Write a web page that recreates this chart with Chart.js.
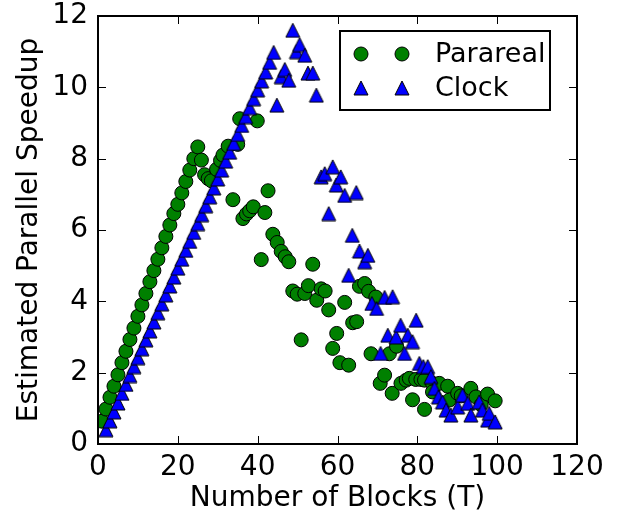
<!DOCTYPE html>
<html>
<head>
<meta charset="utf-8">
<script src="https://cdn.jsdelivr.net/npm/chart.js@4.4.1/dist/chart.umd.min.js"></script>
<style>
  html, body { margin: 0; padding: 0; background: #fff; }
  #speedup { display: block; }
</style>
</head>
<body>
<canvas id="speedup" width="618" height="514"></canvas>
<script>
// Parareal runs: number of blocks vs. estimated speedup
const pararealT = [1, 2, 3, 4, 5, 6, 7, 8, 9, 10, 11, 12, 13, 14, 15, 16, 17, 18, 19, 20, 21, 22, 23, 24, 25,
  25.9, 26.7, 27.6, 28.4, 29.7, 30.7, 31.3, 32.6, 33.8, 35.0, 35.5, 36.3, 37.2, 38.0, 38.9, 39.9, 40.9,
  41.8, 42.6, 43.8, 44.9, 45.9, 46.9, 47.8, 48.8, 49.9, 50.9, 51.8, 52.7, 53.8, 54.8, 55.9, 56.9, 57.8,
  58.8, 59.8, 60.6, 61.8, 62.8, 63.8, 64.8, 65.5, 66.8, 67.8, 68.4, 69.6, 70.7, 71.8, 73.0, 73.7, 74.8,
  75.9, 77.2, 78.0, 78.8, 79.6, 80.9, 81.8, 81.8, 83.8, 83.8, 85.5, 87.6, 88.0, 90.1, 91.0, 93.4, 94.7,
  96.0, 97.6, 99.5];
const pararealSpeedup = [0.64, 0.98, 1.31, 1.62, 1.94, 2.28, 2.6, 2.93, 3.25, 3.58, 3.9, 4.22, 4.55, 4.86,
  5.18, 5.5, 5.82, 6.14, 6.46, 6.72, 7.04, 7.36, 7.68, 8.0, 8.33,
  7.96, 7.55, 7.44, 7.38, 7.7, 7.95, 8.1, 8.35, 6.85, 8.4, 9.12, 6.32, 6.45, 6.54, 6.65, 9.06, 5.17,
  6.49, 7.1, 5.88, 5.65, 5.4, 5.25, 5.11, 4.29, 4.2, 2.92, 4.22, 4.44, 5.04, 4.03, 4.35, 4.29, 3.76,
  2.68, 3.1, 2.28, 3.97, 2.21, 3.4, 3.43, 4.42, 4.5, 4.28, 2.53, 4.12, 1.7, 1.93, 2.53, 1.42, 2.74,
  1.7, 1.79, 1.84, 1.24, 1.81, 1.81, 0.97, 1.79, 1.7, 1.46, 1.7, 1.62, 1.23, 1.42, 1.35, 1.56, 1.32,
  1.1, 1.4, 1.21];

// Clock runs
const clockT = [2, 3, 4, 5, 6, 7, 8, 9, 10, 11, 12, 13, 14, 15, 16, 17, 18, 19, 20, 21, 22, 23, 24, 25,
  26, 27, 28, 29, 30, 31, 32, 33, 34, 35, 36, 37, 38, 39, 40, 41, 42, 43, 44,
  44.8, 45.9, 46.8, 47.8, 48.8, 49.7, 50.5, 51.8, 52.6, 53.8, 54.7, 55.9, 56.8, 57.8, 58.8, 59.7, 60.8,
  61.8, 62.8, 63.7, 64.7, 65.5, 66.8, 67.6, 68.6, 69.8, 70.8, 71.8, 72.6, 73.8, 74.7, 75.8, 76.8, 77.6,
  78.8, 79.7, 80.5, 81.5, 82.6, 83.4, 84.3, 85.3, 86.3, 87.2, 88.4, 90.1, 91.3, 92.6, 93.4, 95.5, 96.3,
  97.6, 98.0, 99.5];
const clockSpeedup = [0.4, 0.65, 0.9, 1.15, 1.42, 1.67, 1.92, 2.17, 2.42, 2.67, 2.92, 3.17, 3.42, 3.68,
  3.93, 4.18, 4.43, 4.68, 4.93, 5.18, 5.43, 5.68, 5.93, 6.18, 6.43, 6.68, 6.93, 7.18, 7.43, 7.68, 7.93,
  8.18, 8.43, 8.68, 8.93, 9.18, 9.43, 9.68, 9.93, 10.18, 10.43, 10.7, 10.98,
  9.5, 10.3, 10.5, 10.2, 11.6, 11.0, 11.2, 10.9, 10.4, 10.4, 9.78, 7.49, 7.58, 6.46, 7.77, 7.26, 7.49,
  6.97, 4.73, 5.85, 7.05, 5.41, 5.11, 5.29, 3.94, 3.8, 2.54, 4.11, 3.05, 4.13, 3.0, 3.33, 2.54, 3.05,
  2.87, 3.47, 2.26, 2.17, 2.17, 1.89, 1.56, 1.32, 1.18, 0.95, 0.81, 1.04, 1.37, 1.14, 0.81, 1.18, 0.95,
  0.67, 0.86, 0.62];

const xTicks = [0, 20, 40, 60, 80, 100, 120];
const yTicks = [0, 2, 4, 6, 8, 10, 12];

const FONT = 'DejaVu Sans';

// matplotlib-style "^" marker: as wide as it is tall, centred at mid-height
function makeTriangle(size) {
  const c = document.createElement('canvas');
  c.width = size + 2;
  c.height = size + 2;
  const g = c.getContext('2d');
  g.beginPath();
  g.moveTo(1 + size / 2, 1);
  g.lineTo(1, 1 + size);
  g.lineTo(1 + size, 1 + size);
  g.closePath();
  g.fillStyle = '#0000ff';
  g.fill();
  g.lineWidth = 1;
  g.strokeStyle = '#000';
  g.stroke();
  return c;
}
const triangle = makeTriangle(14);

const toPoints = (xs, ys) => xs.map((v, i) => ({ x: v, y: ys[i] }));

// frame on all four sides with inward ticks
const frameTicks = {
  id: 'frameTicks',
  afterDatasetsDraw(chart) {
    const { ctx, chartArea: a, scales: { x, y } } = chart;
    const len = 8;
    ctx.save();
    ctx.strokeStyle = '#000';
    ctx.lineWidth = 1;
    ctx.beginPath();
    xTicks.forEach(v => {
      const px = Math.round(x.getPixelForValue(v)) + 0.5;
      ctx.moveTo(px, a.bottom); ctx.lineTo(px, a.bottom - len);
      ctx.moveTo(px, a.top); ctx.lineTo(px, a.top + len);
    });
    yTicks.forEach(v => {
      const py = Math.round(y.getPixelForValue(v)) + 0.5;
      ctx.moveTo(a.left, py); ctx.lineTo(a.left + len, py);
      ctx.moveTo(a.right, py); ctx.lineTo(a.right - len, py);
    });
    ctx.stroke();
    ctx.lineWidth = 2;
    ctx.strokeRect(a.left, a.top, a.right - a.left, a.bottom - a.top);
    ctx.restore();
  }
};

// legend box in the upper right, two markers per entry
const legendBox = {
  id: 'legendBox',
  afterDraw(chart) {
    const { ctx, chartArea: a } = chart;
    const w = 210, h = 79;
    const left = a.right - 27 - w, top = a.top + 15;
    ctx.save();
    ctx.fillStyle = '#fff';
    ctx.fillRect(left, top, w, h);
    ctx.lineWidth = 2;
    ctx.strokeStyle = '#000';
    ctx.strokeRect(left, top, w, h);
    const rows = [top + 23, top + 57];
    chart.data.datasets.forEach((ds, i) => {
      const cy = rows[i];
      [left + 21, left + 62].forEach(cx => {
        if (ds.pointStyle === 'circle') {
          ctx.beginPath();
          ctx.arc(cx, cy, ds.pointRadius, 0, Math.PI * 2);
          ctx.fillStyle = ds.backgroundColor;
          ctx.fill();
          ctx.lineWidth = ds.borderWidth;
          ctx.strokeStyle = ds.borderColor;
          ctx.stroke();
        } else {
          ctx.drawImage(ds.pointStyle, cx - ds.pointStyle.width / 2, cy - ds.pointStyle.height / 2);
        }
      });
      ctx.fillStyle = '#000';
      ctx.font = '27px "' + FONT + '"';
      ctx.textBaseline = 'middle';
      ctx.textAlign = 'left';
      ctx.fillText(ds.label, left + 95, cy + 1);
    });
    ctx.restore();
  }
};

new Chart(document.getElementById('speedup'), {
  type: 'scatter',
  data: {
    datasets: [
      {
        label: 'Parareal',
        data: toPoints(pararealT, pararealSpeedup),
        pointStyle: 'circle',
        pointRadius: 7,
        backgroundColor: '#008000',
        borderColor: '#000',
        borderWidth: 1,
        order: 1
      },
      {
        label: 'Clock',
        data: toPoints(clockT, clockSpeedup),
        pointStyle: triangle,
        pointRadius: 7,
        backgroundColor: '#0000ff',
        borderColor: '#000',
        borderWidth: 1,
        order: 0
      }
    ]
  },
  options: {
    responsive: false,
    animation: false,
    events: [],
    layout: { padding: { top: 16, right: 41, left: 0, bottom: 0 } },
    plugins: { legend: { display: false }, tooltip: { enabled: false } },
    scales: {
      x: {
        type: 'linear',
        min: 0,
        max: 120,
        afterBuildTicks: s => { s.ticks = xTicks.map(v => ({ value: v })); },
        afterFit: s => { s.height = 70; },
        grid: { display: false, drawTicks: false },
        border: { display: false },
        ticks: { color: '#000', font: { family: FONT, size: 28, lineHeight: 1.2 }, padding: 7, maxRotation: 0, autoSkip: false },
        title: {
          display: true,
          text: 'Number of Blocks (T)',
          color: '#000',
          font: { family: FONT, size: 28, lineHeight: 1.2 },
          padding: { top: 0, bottom: -2 }
        }
      },
      y: {
        type: 'linear',
        min: 0,
        max: 12,
        afterBuildTicks: s => { s.ticks = yTicks.map(v => ({ value: v })); },
        afterFit: s => { s.width = 98; },
        // tick marks are drawn by frameTicks; tickLength only pushes the labels off the axis
        grid: { display: false, drawTicks: true, tickLength: 10 },
        border: { display: false },
        ticks: { color: '#000', font: { family: FONT, size: 28, lineHeight: 1.0 }, padding: 0, autoSkip: false },
        title: {
          display: true,
          text: 'Estimated Parallel Speedup',
          color: '#000',
          font: { family: FONT, size: 28, lineHeight: 1.2 },
          padding: { top: 13, bottom: 0 }
        }
      }
    }
  },
  plugins: [frameTicks, legendBox]
});
</script>
</body>
</html>
